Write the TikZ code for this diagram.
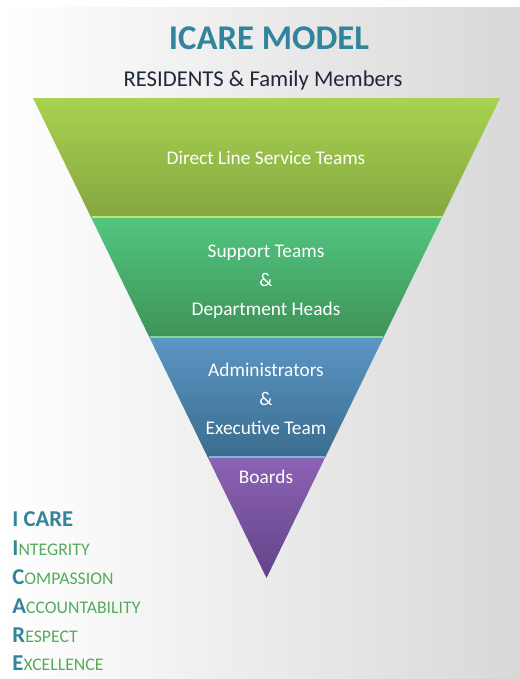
\documentclass[tikz,border=0pt]{standalone}
\usepackage{fontspec}
\setmainfont{Carlito}

\definecolor{icareteal}{RGB}{49,132,155}
\definecolor{icaregreen}{RGB}{86,170,92}

\tikzset{every picture/.style={line width=0.75pt}}
\tikzset{
  bandtext/.style={text=white, font=\fontsize{14.5}{21.75}\selectfont, align=center},
  listline/.style={anchor=base west, inner sep=0pt, text=icaregreen},
}
\newcommand{\firstletter}[1]{{\color{icareteal}\fontsize{17}{20}\selectfont\bfseries #1}}
\newcommand{\restcaps}[1]{{\fontsize{13.3}{15}\selectfont #1}}

\begin{document}
\begin{tikzpicture}[x=0.75pt,y=0.75pt,yscale=-1,xscale=1]
	\useasboundingbox (0,0) rectangle (520,679);

	%Shape: Background [id:bg]
	\fill [white] (0,0) rectangle (520,679);
	\shade [left color=white, right color={rgb, 255:red, 216; green, 216; blue, 216 }] (0,7) rectangle (520,679);

	%Shape: Trapezoid [id:green band]
	\shade [top color={rgb, 255:red, 168; green, 210; blue, 80 }, bottom color={rgb, 255:red, 134; green, 166; blue, 64 }] (33,98) -- (500,98) -- (441.6,218) -- (91.4,218) -- cycle ;
	\draw [line width=1.5, color={rgb, 255:red, 196; green, 226; blue, 118 }] (91.5,216.5) -- (441.5,216.5) ;
	%Shape: Trapezoid [id:teal band]
	\shade [top color={rgb, 255:red, 82; green, 198; blue, 128 }, bottom color={rgb, 255:red, 62; green, 146; blue, 88 }] (91.4,218) -- (441.6,218) -- (383.25,338) -- (149.75,338) -- cycle ;
	\draw [line width=1.5, color={rgb, 255:red, 124; green, 218; blue, 150 }] (150,336.5) -- (383,336.5) ;
	%Shape: Trapezoid [id:blue band]
	\shade [top color={rgb, 255:red, 92; green, 150; blue, 196 }, bottom color={rgb, 255:red, 58; green, 108; blue, 142 }] (149.75,338) -- (383.25,338) -- (324.9,458) -- (208.1,458) -- cycle ;
	\draw [line width=1.5, color={rgb, 255:red, 128; green, 184; blue, 220 }] (208.5,456.5) -- (324.5,456.5) ;
	%Shape: Triangle [id:purple band]
	\shade [top color={rgb, 255:red, 140; green, 98; blue, 180 }, bottom color={rgb, 255:red, 98; green, 68; blue, 136 }] (208.1,458) -- (324.9,458) -- (266.5,578) -- cycle ;

	% Text Node
	\draw (269,38) node (title) [text=icareteal, font=\fontsize{26}{30}\selectfont\bfseries] {ICARE MODEL};
	% Text Node
	\draw (263,80) node (residents) [text={rgb, 255:red, 30; green, 40; blue, 56 }, font=\fontsize{17}{20}\selectfont] {RESIDENTS \& Family Members};
	% Text Node
	\draw (266,158) node (direct) [bandtext] {Direct Line Service Teams};
	% Text Node
	\draw (266,282) node (support) [bandtext] {Support Teams\\\&\\Department Heads};
	% Text Node
	\draw (266,399) node (admin) [bandtext] {Administrators\\\&\\Executive Team};
	% Text Node
	\draw (266,477) node (boards) [bandtext] {Boards};

	% Text Node
	\draw (12,526) node (icare) [listline, text=icareteal, font=\fontsize{17}{20}\selectfont\bfseries] {I CARE};
	% Text Node
	\draw (12,555) node (integrity) [listline] {\firstletter{I}\restcaps{NTEGRITY}};
	% Text Node
	\draw (12,584) node (compassion) [listline] {\firstletter{C}\restcaps{OMPASSION}};
	% Text Node
	\draw (12,613) node (accountability) [listline] {\firstletter{A}\restcaps{CCOUNTABILITY}};
	% Text Node
	\draw (12,642) node (respect) [listline] {\firstletter{R}\restcaps{ESPECT}};
	% Text Node
	\draw (12,670) node (excellence) [listline] {\firstletter{E}\restcaps{XCELLENCE}};

\end{tikzpicture}
\end{document}
